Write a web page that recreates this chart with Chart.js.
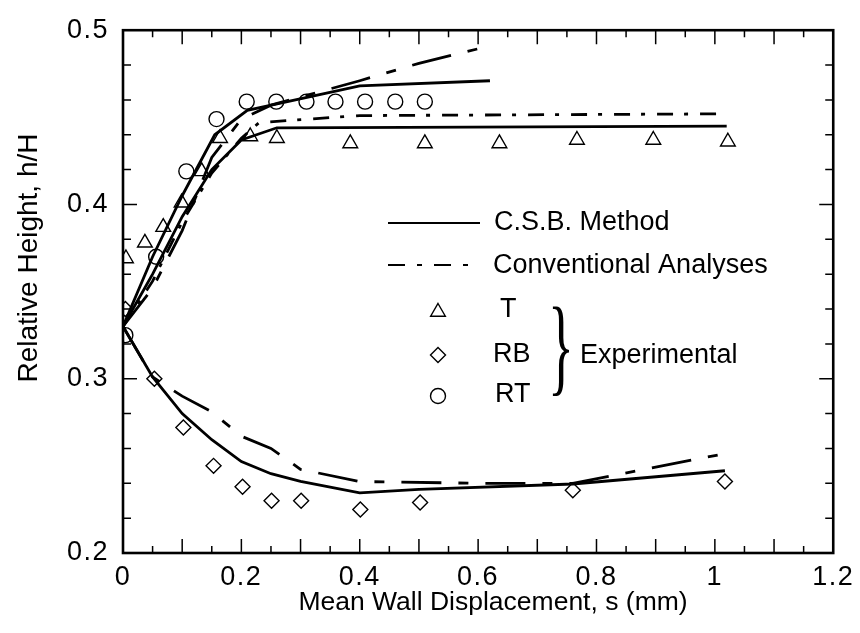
<!DOCTYPE html>
<html>
<head>
<meta charset="utf-8">
<script src="https://cdn.jsdelivr.net/npm/chart.js@4.4.1/dist/chart.umd.min.js"></script>
<style>
  html, body { margin: 0; padding: 0; background: #fff; }
  canvas { display: block; }
</style>
</head>
<body>
<canvas id="c" width="860" height="633"></canvas>
<script>
// ---- Experimental measurements ----
const tX  = [0.005, 0.037, 0.068, 0.099, 0.133, 0.164, 0.215, 0.260, 0.384, 0.510, 0.636, 0.767, 0.896, 1.022];
const tY  = [0.369, 0.378, 0.387, 0.401, 0.419, 0.438, 0.439, 0.438, 0.435, 0.435, 0.435, 0.437, 0.437, 0.436];

const rbX = [0.004, 0.053, 0.102, 0.153, 0.202, 0.251, 0.301, 0.401, 0.502, 0.760, 1.017];
const rbY = [0.340, 0.300, 0.272, 0.250, 0.238, 0.230, 0.230, 0.225, 0.229, 0.236, 0.241];

const rtX = [0.004, 0.056, 0.107, 0.158, 0.209, 0.259, 0.310, 0.359, 0.409, 0.460, 0.510];
const rtY = [0.325, 0.370, 0.419, 0.449, 0.459, 0.459, 0.459, 0.459, 0.459, 0.459, 0.459];

// ---- C.S.B. method predictions ----
const csbRtX = [0, 0.05, 0.10, 0.155, 0.21, 0.40, 0.62];
const csbRtY = [0.33, 0.370, 0.405, 0.440, 0.454, 0.468, 0.471];

const csbTX  = [0, 0.05, 0.10, 0.15, 0.20, 0.26, 1.02];
const csbTY  = [0.33, 0.360, 0.393, 0.420, 0.437, 0.444, 0.445];

const csbRbX = [0, 0.05, 0.10, 0.15, 0.20, 0.25, 0.30, 0.40, 0.50, 0.76, 1.017];
const csbRbY = [0.33, 0.301, 0.280, 0.265, 0.2525, 0.2455, 0.2411, 0.2345, 0.2365, 0.2396, 0.2472];

// ---- Conventional analyses ----
const convRtX = [0, 0.05, 0.10, 0.15, 0.20, 0.25, 0.40, 0.50, 0.62];
const convRtY = [0.33, 0.352, 0.385, 0.427, 0.449, 0.457, 0.471, 0.481, 0.491];

const convTX  = [0, 0.05, 0.10, 0.15, 0.20, 0.23, 0.40, 1.01];
const convTY  = [0.33, 0.356, 0.390, 0.418, 0.438, 0.447, 0.451, 0.452];

const convRbX = [0, 0.05, 0.10, 0.15, 0.20, 0.25, 0.30, 0.40, 0.60, 0.76, 1.017];
const convRbY = [0.33, 0.301, 0.290, 0.281, 0.267, 0.260, 0.248, 0.241, 0.240, 0.240, 0.257];

// ---- Axis tick labels ----
const xTickValues = [0, 0.2, 0.4, 0.6, 0.8, 1.0, 1.2];
const xTickLabels = ['0', '0.2', '0.4', '0.6', '0.8', '1', '1.2'];
const yTickValues = [0.2, 0.3, 0.4, 0.5];
const yTickLabels = ['0.2', '0.3', '0.4', '0.5'];

const xTitle = 'Mean Wall Displacement, s (mm)';
const yTitle = 'Relative Height, h/H';

const FONT = '"Liberation Sans", Arial, Helvetica, sans-serif';
const pts = (xs, ys) => xs.map((x, i) => ({ x, y: ys[i] }));

const LONG_DASH = [40, 17, 10, 17];
const SHORT_DASH = [16, 11, 4, 12];

function lineSet(label, xs, ys, dash) {
  return {
    label, data: pts(xs, ys), showLine: true, tension: 0,
    borderColor: '#000', borderWidth: 2.8, borderDash: dash || [],
    pointRadius: 0, pointHoverRadius: 0, fill: false
  };
}
function markSet(label, xs, ys, style, r) {
  return {
    label, data: pts(xs, ys), showLine: false,
    pointStyle: style, pointRadius: r, pointHoverRadius: r,
    pointBorderColor: '#000', pointBackgroundColor: 'rgba(0,0,0,0)', pointBorderWidth: 1.4
  };
}

function matchLabel(values, labels, v) {
  const i = values.findIndex(t => Math.abs(t - v) < 1e-6);
  return i >= 0 ? labels[i] : '';
}
const isMajor = (v, step) => Math.abs(v / step - Math.round(v / step)) < 1e-6;

// Slightly spaced digits for the tick labels
const spacing = {
  id: 'spacing',
  beforeDraw(chart) { chart.ctx.letterSpacing = '1.5px'; },
  beforeDatasetsDraw(chart) { chart.ctx.letterSpacing = '0px'; }
};

// Frame, inward tick marks, axis titles and the annotated key
const decorations = {
  id: 'decorations',
  afterDraw(chart) {
    const ctx = chart.ctx, a = chart.chartArea;
    const xs = chart.scales.x, ys = chart.scales.y;
    ctx.save();
    ctx.letterSpacing = '0px';
    ctx.strokeStyle = '#000';
    ctx.fillStyle = '#000';

    // tick marks on all four sides, pointing inward
    ctx.lineWidth = 1.5;
    ctx.beginPath();
    xs.ticks.forEach(t => {
      const p = xs.getPixelForValue(t.value);
      const L = isMajor(t.value, 0.1) ? 14 : 7;
      ctx.moveTo(p, a.bottom); ctx.lineTo(p, a.bottom - L);
      ctx.moveTo(p, a.top);    ctx.lineTo(p, a.top + L);
    });
    ys.ticks.forEach(t => {
      const p = ys.getPixelForValue(t.value);
      const L = isMajor(t.value, 0.1) ? 14 : 8;
      ctx.moveTo(a.left, p);  ctx.lineTo(a.left + L, p);
      ctx.moveTo(a.right, p); ctx.lineTo(a.right - L, p);
    });
    ctx.stroke();

    // plot frame
    ctx.lineWidth = 2.6;
    ctx.strokeRect(a.left, a.top, a.right - a.left, a.bottom - a.top);

    // axis titles
    ctx.textAlign = 'center';
    ctx.textBaseline = 'middle';
    ctx.font = '26.5px ' + FONT;
    ctx.fillText(xTitle, 493, 603);
    ctx.save();
    ctx.translate(29, 258);
    ctx.rotate(-Math.PI / 2);
    ctx.font = '28px ' + FONT;
    ctx.fillText(yTitle, 0, 0);
    ctx.restore();

    // key
    ctx.lineWidth = 2.2;
    ctx.beginPath(); ctx.moveTo(388, 223); ctx.lineTo(480, 223); ctx.stroke();
    ctx.setLineDash([17, 12, 5, 12]);
    ctx.beginPath(); ctx.moveTo(388, 265); ctx.lineTo(480, 265); ctx.stroke();
    ctx.setLineDash([]);

    ctx.font = '27px ' + FONT;
    ctx.textAlign = 'left';
    ctx.fillText('C.S.B. Method', 494, 223);
    ctx.fillText('Conventional Analyses', 493, 266);
    ctx.fillText('T', 500, 310);
    ctx.fillText('RB', 493, 355);
    ctx.fillText('RT', 495, 395);
    ctx.fillText('Experimental', 580, 356);

    const opt = (style, r) => ({ pointStyle: style, radius: r, rotation: 0, borderWidth: 1.4 });
    ctx.lineWidth = 1.4;
    ctx.fillStyle = 'rgba(0,0,0,0)';
    Chart.helpers.drawPoint(ctx, opt('triangle', 8.5), 438, 312);
    Chart.helpers.drawPoint(ctx, opt('rectRot', 7.5), 438, 355);
    Chart.helpers.drawPoint(ctx, opt('circle', 7.5), 438, 396);
    ctx.fillStyle = '#000';

    // brace grouping the experimental series
    ctx.save();
    ctx.translate(548, 355 + 27);
    ctx.scale(0.5, 1);
    ctx.font = '108px "Liberation Serif", "Times New Roman", serif';
    ctx.textBaseline = 'alphabetic';
    ctx.fillText('}', 0, 0);
    ctx.restore();

    ctx.restore();
  }
};

new Chart(document.getElementById('c'), {
  type: 'scatter',
  data: {
    datasets: [
      lineSet('C.S.B. Method (RT)', csbRtX, csbRtY),
      lineSet('C.S.B. Method (T)', csbTX, csbTY),
      lineSet('C.S.B. Method (RB)', csbRbX, csbRbY),
      lineSet('Conventional Analyses (RT)', convRtX, convRtY, LONG_DASH),
      lineSet('Conventional Analyses (T)', convTX, convTY, SHORT_DASH),
      lineSet('Conventional Analyses (RB)', convRbX, convRbY, LONG_DASH),
      markSet('T', tX, tY, 'triangle', 8.5),
      markSet('RB', rbX, rbY, 'rectRot', 7.5),
      markSet('RT', rtX, rtY, 'circle', 7.5)
    ]
  },
  options: {
    responsive: false,
    animation: false,
    events: [],
    layout: { padding: { top: 23, right: 24, left: 0, bottom: 0 } },
    plugins: { legend: { display: false }, tooltip: { enabled: false } },
    scales: {
      x: {
        type: 'linear', min: 0, max: 1.2,
        afterFit: s => { s.height = 80; },
        grid: { display: false, drawTicks: false },
        border: { display: false },
        ticks: {
          stepSize: 0.05, autoSkip: false, maxRotation: 0, padding: 8,
          color: '#000', font: { family: FONT, size: 27 },
          callback: v => matchLabel(xTickValues, xTickLabels, v)
        }
      },
      y: {
        type: 'linear', min: 0.2, max: 0.5,
        afterFit: s => { s.width = 123; },
        grid: { display: false, drawTicks: false },
        border: { display: false },
        ticks: {
          stepSize: 0.02, autoSkip: false, padding: 14,
          color: '#000', font: { family: FONT, size: 27 },
          callback: v => matchLabel(yTickValues, yTickLabels, v)
        }
      }
    }
  },
  plugins: [spacing, decorations]
});
</script>
</body>
</html>
